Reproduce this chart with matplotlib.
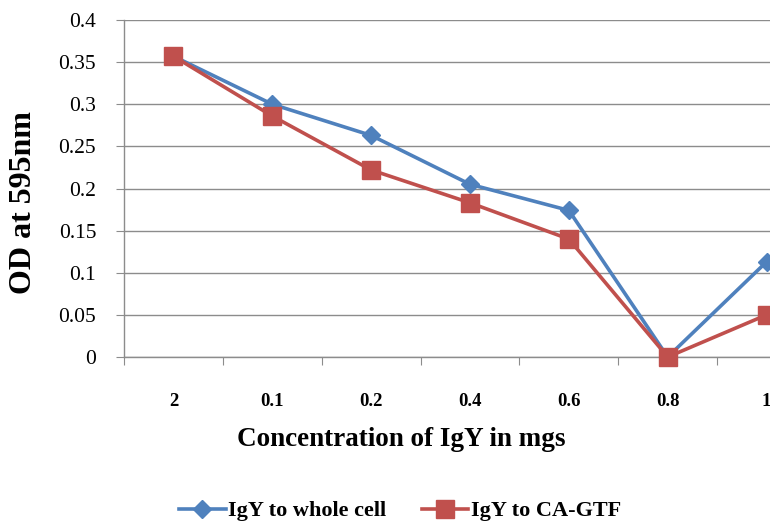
import matplotlib.pyplot as plt
from matplotlib.lines import Line2D
import numpy as np

# data
concentrations = ['2', '0.1', '0.2', '0.4', '0.6', '0.8', '1']
whole_cell = [0.357, 0.300, 0.263, 0.205, 0.174, 0.000, 0.113]
ca_gtf = [0.357, 0.286, 0.222, 0.183, 0.140, 0.000, 0.050]
y_ticks = [0, 0.05, 0.1, 0.15, 0.2, 0.25, 0.3, 0.35, 0.4]
y_tick_labels = ['0', '0.05', '0.1', '0.15', '0.2', '0.25', '0.3', '0.35', '0.4']

blue = '#4F81BD'
red = '#C0504D'
grid_col = '#8C8C8C'

plt.rcParams['font.family'] = ['Liberation Serif', 'DejaVu Serif']

fig = plt.figure(figsize=(7.7, 5.21), dpi=100)
W, H = 770, 521
# axes runs off the right edge of the picture, like the cropped original
ax = fig.add_axes([124 / W, (H - 357) / H, 692 / W, 337 / H])

x = np.arange(len(concentrations))
ax.plot(x, whole_cell, color=blue, lw=2.6, marker='D', ms=9,
        markerfacecolor=blue, markeredgecolor=blue, zorder=3, clip_on=False)
ax.plot(x, ca_gtf, color=red, lw=2.6, marker='s', ms=13,
        markerfacecolor=red, markeredgecolor=red, zorder=4, clip_on=False)

ax.set_xlim(-0.5, len(concentrations) - 0.5)
ax.set_ylim(0, 0.4)
ax.set_yticks(y_ticks)
ax.set_yticklabels(y_tick_labels, fontsize=15.5)
ax.yaxis.grid(True, color=grid_col, lw=1.0)
ax.set_axisbelow(True)

# category ticks sit between categories, labels centred on categories
ax.set_xticks(np.arange(len(concentrations) + 1) - 0.5)
ax.set_xticklabels([])
ax.set_xticks(x, minor=True)
ax.set_xticklabels(concentrations, minor=True, fontsize=13.5, fontweight='bold')
ax.tick_params(axis='x', which='minor', length=0, pad=26)
ax.tick_params(axis='x', which='major', length=6, color=grid_col, direction='out')
ax.tick_params(axis='y', length=6, color=grid_col, pad=14)

for side in ['top', 'right']:
    ax.spines[side].set_visible(False)
for side in ['left', 'bottom']:
    ax.spines[side].set_color(grid_col)
    ax.spines[side].set_linewidth(1.0)

fig.text(24 / W, 1 - 203 / H, 'OD at 595nm', rotation=90, fontsize=23,
         fontweight='bold', ha='center', va='center')
fig.text(401 / W, 1 - 440 / H, 'Concentration of IgY in mgs', fontsize=19.5,
         fontweight='bold', ha='center', va='center')

handles = [
    Line2D([], [], color=blue, lw=2.6, marker='D', ms=9),
    Line2D([], [], color=red, lw=2.6, marker='s', ms=13),
]
fig.legend(handles, ['IgY to whole cell', 'IgY to CA-GTF'], loc='center',
           bbox_to_anchor=(400 / W, 1 - 511 / H), ncol=2, frameon=False,
           prop={'family': 'Liberation Serif', 'weight': 'bold', 'size': 16},
           handlelength=2.1, handletextpad=0.1, columnspacing=1.6)

fig.savefig('out.png', dpi=100)
